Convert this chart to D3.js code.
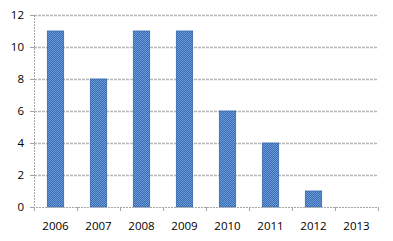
<!DOCTYPE html>
<html><head><meta charset="utf-8">
<script src="https://cdn.jsdelivr.net/npm/d3@7"></script>
<style>body{margin:0;background:#fff}svg{display:block}text{font-family:"Open Sans","Liberation Sans",sans-serif;font-size:11.5px;fill:#000}</style>
</head><body>
<script>
const categories = ["2006","2007","2008","2009","2010","2011","2012","2013"];
const values = [11, 8, 11, 11, 6, 4, 1, 0];
const yTicks = [0, 2, 4, 6, 8, 10, 12];

const W = 393, H = 241;
const m = {left: 34, right: 15, top: 15, bottom: 34};
const svg = d3.select("body").append("svg").attr("width", W).attr("height", H);

const defs = svg.append("defs");
const pat = defs.append("pattern").attr("id","hatch").attr("patternUnits","userSpaceOnUse").attr("width",2).attr("height",2);
pat.append("rect").attr("width",2).attr("height",2).attr("fill","#3a6cb3");
pat.append("rect").attr("width",1).attr("height",1).attr("fill","#6b9bd8");
pat.append("rect").attr("x",1).attr("y",1).attr("width",1).attr("height",1).attr("fill","#6b9bd8");

const x = d3.scaleBand().domain(categories).range([m.left, W - m.right]).paddingInner(0.62).paddingOuter(0.31);
const xb = d3.scaleBand().domain(categories).range([m.left, W - m.right]);
const y = d3.scaleLinear().domain([0, 12]).range([H - m.bottom, m.top]);

// gridlines
svg.append("g").selectAll("line").data(yTicks.filter(d => d > 0)).join("line")
  .attr("x1", m.left).attr("x2", W - m.right)
  .attr("y1", d => Math.round(y(d)) + 0.5).attr("y2", d => Math.round(y(d)) + 0.5)
  .attr("stroke", "#b8b8b8").attr("stroke-width", 1.5).attr("stroke-dasharray", "3,1");

// bars
svg.append("g").selectAll("rect").data(categories.map((c, i) => ({c, v: values[i]})).filter(d => d.v > 0)).join("rect")
  .attr("x", d => x(d.c)).attr("width", x.bandwidth())
  .attr("y", d => y(d.v)).attr("height", d => y(0) - y(d.v))
  .attr("fill", "url(#hatch)").attr("stroke", "#3566ab").attr("stroke-width", 0.8);

// axes lines
svg.append("line").attr("x1", m.left + 0.5).attr("x2", m.left + 0.5).attr("y1", m.top).attr("y2", y(0))
  .attr("stroke", "#a6a6a6").attr("stroke-dasharray", "2,1");
svg.append("line").attr("x1", m.left - 4).attr("x2", W - m.right).attr("y1", Math.round(y(0)) + 0.5).attr("y2", Math.round(y(0)) + 0.5)
  .attr("stroke", "#a6a6a6").attr("stroke-dasharray", "2,1");

// y tick marks & labels
svg.append("g").selectAll("line").data(yTicks).join("line")
  .attr("x1", m.left - 4).attr("x2", m.left).attr("y1", d => Math.round(y(d)) + 0.5).attr("y2", d => Math.round(y(d)) + 0.5)
  .attr("stroke", "#a6a6a6");
svg.append("g").selectAll("text").data(yTicks).join("text")
  .attr("x", 24).attr("y", d => y(d)).attr("dy", "0.35em").attr("text-anchor", "end").text(d => d);

// x tick marks
const bounds = categories.map(c => xb(c)).concat([W - m.right]);
svg.append("g").selectAll("line").data(bounds).join("line")
  .attr("x1", d => Math.round(d) + 0.5).attr("x2", d => Math.round(d) + 0.5)
  .attr("y1", y(0)).attr("y2", y(0) + 4).attr("stroke", "#a6a6a6");

// x labels
svg.append("g").selectAll("text").data(categories).join("text")
  .attr("x", d => xb(d) + xb.bandwidth() / 2).attr("y", H - 11).attr("text-anchor", "middle").text(d => d);
</script>
</body></html>
